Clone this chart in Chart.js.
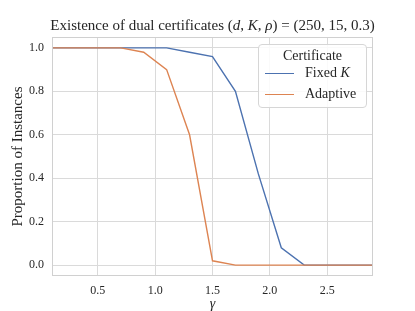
<!DOCTYPE html>
<html>
<head>
<meta charset="utf-8">
<script src="https://cdn.jsdelivr.net/npm/chart.js@4.4.0/dist/chart.umd.min.js"></script>
<style>
  body { margin: 0; background: #fff; }
  #wrap { position: relative; width: 415px; height: 311px; }
  #title { position: absolute; left: 0; width: 425px; top: 17px; text-align: center;
           font-family: "Liberation Serif", serif; font-size: 15px; color: #262626; white-space: nowrap; }
  #legend { position: absolute; left: 258px; top: 44px; width: 107px; height: 62px;
            border: 1px solid #d6d6d6; border-radius: 4px; background: rgba(255,255,255,0.85);
            font-family: "Liberation Serif", serif; font-size: 14px; color: #262626; }
  #legend .lt { text-align: center; margin-top: 3px; }
  #legend .row { position: relative; height: 21px; }
  #legend .sw { position: absolute; left: 6px; top: 9px; width: 29px; height: 0; border-top: 1.4px solid; }
  #legend .tx { position: absolute; left: 46px; top: 1px; }
</style>
</head>
<body>
<div id="wrap">
  <canvas id="chart" width="415" height="311"></canvas>
  <div id="title">Existence of dual certificates (<i>d</i>, <i>K</i>, <i>ρ</i>) = (250, 15, 0.3)</div>
  <div id="legend">
    <div class="lt">Certificate</div>
    <div class="row"><span class="sw" style="border-color:#4c72b0"></span><span class="tx">Fixed <i>K</i></span></div>
    <div class="row"><span class="sw" style="border-color:#dd8452"></span><span class="tx">Adaptive</span></div>
  </div>
</div>
<script>
// gamma values (x)
const gammas = [0.1, 0.3, 0.5, 0.7, 0.9, 1.1, 1.3, 1.5, 1.7, 1.9, 2.1, 2.3, 2.5, 2.7, 2.9];
// proportion of instances
const fixedK = [1, 1, 1, 1, 1, 1, 0.98, 0.96, 0.80, 0.42, 0.08, 0, 0, 0, 0];
const adaptive = [1, 1, 1, 1, 0.98, 0.90, 0.60, 0.02, 0, 0, 0, 0, 0, 0, 0];
const xTicks = [0.5, 1.0, 1.5, 2.0, 2.5];
const yTicks = [0.0, 0.2, 0.4, 0.6, 0.8, 1.0];

const serif = '"Liberation Serif", serif';

// 外框
const frame = {
    id: 'frame',
    afterDraw(chart) {
        const a = chart.chartArea, c = chart.ctx;
        c.save();
        c.strokeStyle = '#d0d0d0';
        c.lineWidth = 1;
        c.strokeRect(a.left + 0.5, a.top + 0.5, a.right - a.left - 1, a.bottom - a.top - 1);
        c.restore();
    }
};

new Chart(document.getElementById('chart'), {
    type: 'line',
    data: {
        datasets: [
            { label: 'Fixed K', data: gammas.map((g, i) => ({ x: g, y: fixedK[i] })), borderColor: '#4c72b0', order: 2 },
            { label: 'Adaptive', data: gammas.map((g, i) => ({ x: g, y: adaptive[i] })), borderColor: '#dd8452', order: 1 }
        ]
    },
    options: {
        responsive: false,
        animation: false,
        elements: { point: { radius: 0 }, line: { borderWidth: 1.4, tension: 0 } },
        layout: { padding: { top: 37, right: 42, left: 0, bottom: 0 } },
        plugins: { legend: { display: false }, tooltip: { enabled: false } },
        scales: {
            x: {
                type: 'linear', min: 0.1, max: 2.9,
                afterBuildTicks: s => { s.ticks = xTicks.map(v => ({ value: v })); },
                afterFit: s => { s.height = 35; },
                grid: { color: '#dadada', drawTicks: false },
                border: { display: false },
                ticks: { padding: 8, color: '#262626', font: { family: serif, size: 12 }, callback: v => v.toFixed(1) },
                title: { display: true, text: 'γ', color: '#262626', padding: { top: 0, bottom: -2 }, font: { family: serif, size: 14, style: 'italic' } }
            },
            y: {
                min: -0.05, max: 1.05,
                afterBuildTicks: s => { s.ticks = yTicks.map(v => ({ value: v })); },
                afterFit: s => { s.width = 52; },
                grid: { color: '#dadada', drawTicks: false },
                border: { display: false },
                ticks: { padding: 8, color: '#262626', font: { family: serif, size: 12 }, callback: v => v.toFixed(1) },
                title: { display: true, text: 'Proportion of Instances', color: '#262626', padding: { top: 9, bottom: 0 }, font: { family: serif, size: 15 } }
            }
        }
    },
    plugins: [frame]
});
</script>
</body>
</html>
